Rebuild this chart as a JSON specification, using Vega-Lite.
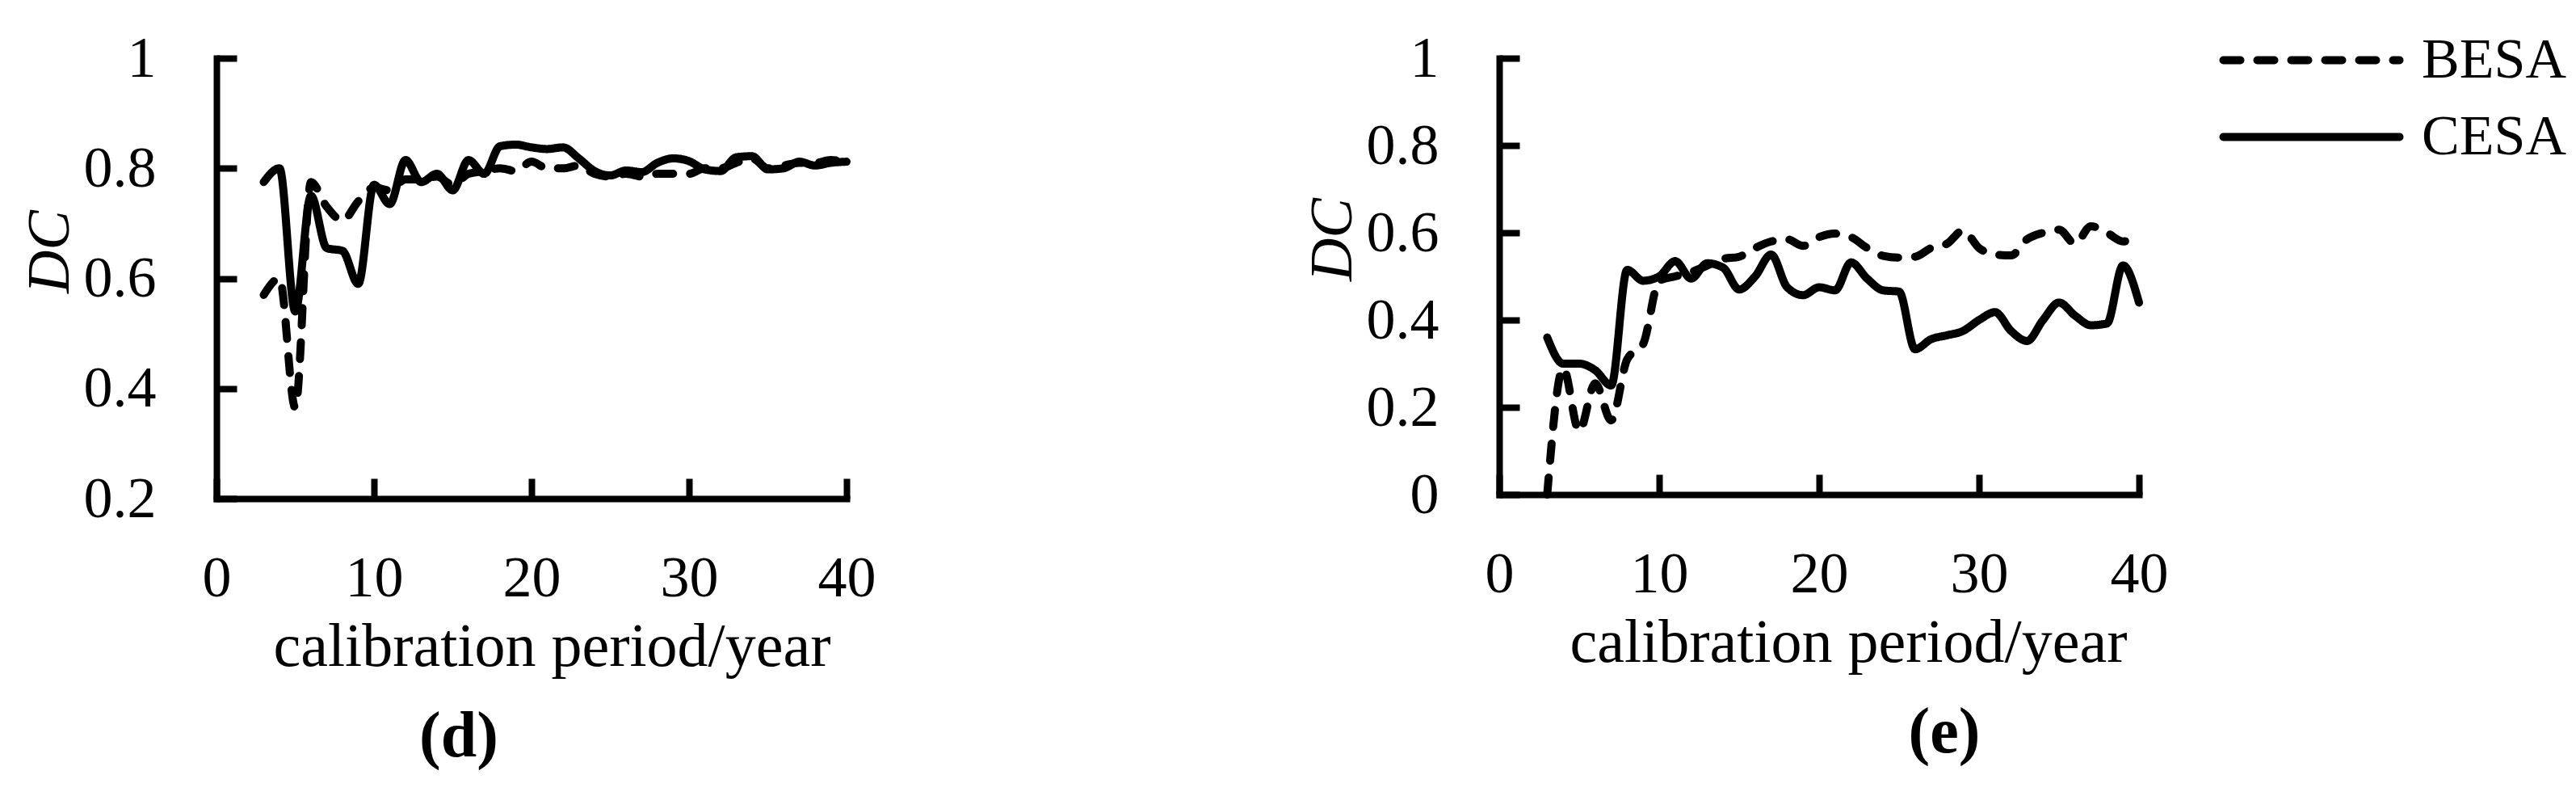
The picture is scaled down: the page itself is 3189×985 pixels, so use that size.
{
  "$schema": "https://vega.github.io/schema/vega-lite/v6.json",
  "background": "white",
  "padding": {"left": 25, "top": 15, "right": 5, "bottom": 5},
  "datasets": {
    "dc": [
      {"p":"d","m":"CESA","year":3,"DC":0.775},{"p":"d","m":"CESA","year":4,"DC":0.80},{"p":"d","m":"CESA","year":5,"DC":0.54},{"p":"d","m":"CESA","year":6,"DC":0.75},{"p":"d","m":"CESA","year":7,"DC":0.655},{"p":"d","m":"CESA","year":8,"DC":0.65},{"p":"d","m":"CESA","year":9,"DC":0.59},{"p":"d","m":"CESA","year":10,"DC":0.77},{"p":"d","m":"CESA","year":11,"DC":0.735},{"p":"d","m":"CESA","year":12,"DC":0.815},{"p":"d","m":"CESA","year":13,"DC":0.775},{"p":"d","m":"CESA","year":14,"DC":0.79},{"p":"d","m":"CESA","year":15,"DC":0.76},{"p":"d","m":"CESA","year":16,"DC":0.815},{"p":"d","m":"CESA","year":17,"DC":0.79},{"p":"d","m":"CESA","year":18,"DC":0.84},{"p":"d","m":"CESA","year":19,"DC":0.843},{"p":"d","m":"CESA","year":20,"DC":0.838},{"p":"d","m":"CESA","year":21,"DC":0.835},{"p":"d","m":"CESA","year":22,"DC":0.838},{"p":"d","m":"CESA","year":23,"DC":0.818},{"p":"d","m":"CESA","year":24,"DC":0.795},{"p":"d","m":"CESA","year":25,"DC":0.787},{"p":"d","m":"CESA","year":26,"DC":0.796},{"p":"d","m":"CESA","year":27,"DC":0.793},{"p":"d","m":"CESA","year":28,"DC":0.81},{"p":"d","m":"CESA","year":29,"DC":0.818},{"p":"d","m":"CESA","year":30,"DC":0.813},{"p":"d","m":"CESA","year":31,"DC":0.798},{"p":"d","m":"CESA","year":32,"DC":0.795},{"p":"d","m":"CESA","year":33,"DC":0.82},{"p":"d","m":"CESA","year":34,"DC":0.822},{"p":"d","m":"CESA","year":35,"DC":0.798},{"p":"d","m":"CESA","year":36,"DC":0.80},{"p":"d","m":"CESA","year":37,"DC":0.812},{"p":"d","m":"CESA","year":38,"DC":0.805},{"p":"d","m":"CESA","year":39,"DC":0.81},{"p":"d","m":"CESA","year":40,"DC":0.812},
      {"p":"d","m":"BESA","year":3,"DC":0.57},{"p":"d","m":"BESA","year":4,"DC":0.60},{"p":"d","m":"BESA","year":5,"DC":0.365},{"p":"d","m":"BESA","year":6,"DC":0.775},{"p":"d","m":"BESA","year":7,"DC":0.73},{"p":"d","m":"BESA","year":8,"DC":0.705},{"p":"d","m":"BESA","year":9,"DC":0.74},{"p":"d","m":"BESA","year":10,"DC":0.765},{"p":"d","m":"BESA","year":11,"DC":0.76},{"p":"d","m":"BESA","year":12,"DC":0.78},{"p":"d","m":"BESA","year":13,"DC":0.78},{"p":"d","m":"BESA","year":14,"DC":0.785},{"p":"d","m":"BESA","year":15,"DC":0.77},{"p":"d","m":"BESA","year":16,"DC":0.79},{"p":"d","m":"BESA","year":17,"DC":0.795},{"p":"d","m":"BESA","year":18,"DC":0.80},{"p":"d","m":"BESA","year":19,"DC":0.795},{"p":"d","m":"BESA","year":20,"DC":0.812},{"p":"d","m":"BESA","year":21,"DC":0.80},{"p":"d","m":"BESA","year":22,"DC":0.80},{"p":"d","m":"BESA","year":23,"DC":0.805},{"p":"d","m":"BESA","year":24,"DC":0.79},{"p":"d","m":"BESA","year":25,"DC":0.785},{"p":"d","m":"BESA","year":26,"DC":0.79},{"p":"d","m":"BESA","year":27,"DC":0.785},{"p":"d","m":"BESA","year":28,"DC":0.79},{"p":"d","m":"BESA","year":29,"DC":0.79},{"p":"d","m":"BESA","year":30,"DC":0.79},{"p":"d","m":"BESA","year":31,"DC":0.80},{"p":"d","m":"BESA","year":32,"DC":0.80},{"p":"d","m":"BESA","year":33,"DC":0.81},{"p":"d","m":"BESA","year":34,"DC":0.818},{"p":"d","m":"BESA","year":35,"DC":0.80},{"p":"d","m":"BESA","year":36,"DC":0.805},{"p":"d","m":"BESA","year":37,"DC":0.81},{"p":"d","m":"BESA","year":38,"DC":0.81},{"p":"d","m":"BESA","year":39,"DC":0.815},{"p":"d","m":"BESA","year":40,"DC":0.81},
      {"p":"e","m":"CESA","year":3,"DC":0.36},{"p":"e","m":"CESA","year":4,"DC":0.30},{"p":"e","m":"CESA","year":5,"DC":0.30},{"p":"e","m":"CESA","year":6,"DC":0.285},{"p":"e","m":"CESA","year":7,"DC":0.25},{"p":"e","m":"CESA","year":8,"DC":0.515},{"p":"e","m":"CESA","year":9,"DC":0.49},{"p":"e","m":"CESA","year":10,"DC":0.50},{"p":"e","m":"CESA","year":11,"DC":0.535},{"p":"e","m":"CESA","year":12,"DC":0.495},{"p":"e","m":"CESA","year":13,"DC":0.53},{"p":"e","m":"CESA","year":14,"DC":0.52},{"p":"e","m":"CESA","year":15,"DC":0.47},{"p":"e","m":"CESA","year":16,"DC":0.50},{"p":"e","m":"CESA","year":17,"DC":0.55},{"p":"e","m":"CESA","year":18,"DC":0.475},{"p":"e","m":"CESA","year":19,"DC":0.457},{"p":"e","m":"CESA","year":20,"DC":0.475},{"p":"e","m":"CESA","year":21,"DC":0.468},{"p":"e","m":"CESA","year":22,"DC":0.532},{"p":"e","m":"CESA","year":23,"DC":0.495},{"p":"e","m":"CESA","year":24,"DC":0.468},{"p":"e","m":"CESA","year":25,"DC":0.465},{"p":"e","m":"CESA","year":26,"DC":0.333},{"p":"e","m":"CESA","year":27,"DC":0.356},{"p":"e","m":"CESA","year":28,"DC":0.365},{"p":"e","m":"CESA","year":29,"DC":0.375},{"p":"e","m":"CESA","year":30,"DC":0.40},{"p":"e","m":"CESA","year":31,"DC":0.418},{"p":"e","m":"CESA","year":32,"DC":0.375},{"p":"e","m":"CESA","year":33,"DC":0.352},{"p":"e","m":"CESA","year":34,"DC":0.40},{"p":"e","m":"CESA","year":35,"DC":0.44},{"p":"e","m":"CESA","year":36,"DC":0.41},{"p":"e","m":"CESA","year":37,"DC":0.388},{"p":"e","m":"CESA","year":38,"DC":0.392},{"p":"e","m":"CESA","year":39,"DC":0.525},{"p":"e","m":"CESA","year":40,"DC":0.44},
      {"p":"e","m":"BESA","year":3,"DC":0.0},{"p":"e","m":"BESA","year":4,"DC":0.29},{"p":"e","m":"BESA","year":5,"DC":0.145},{"p":"e","m":"BESA","year":6,"DC":0.255},{"p":"e","m":"BESA","year":7,"DC":0.17},{"p":"e","m":"BESA","year":8,"DC":0.31},{"p":"e","m":"BESA","year":9,"DC":0.345},{"p":"e","m":"BESA","year":10,"DC":0.49},{"p":"e","m":"BESA","year":11,"DC":0.50},{"p":"e","m":"BESA","year":12,"DC":0.51},{"p":"e","m":"BESA","year":13,"DC":0.525},{"p":"e","m":"BESA","year":14,"DC":0.54},{"p":"e","m":"BESA","year":15,"DC":0.545},{"p":"e","m":"BESA","year":16,"DC":0.565},{"p":"e","m":"BESA","year":17,"DC":0.58},{"p":"e","m":"BESA","year":18,"DC":0.585},{"p":"e","m":"BESA","year":19,"DC":0.57},{"p":"e","m":"BESA","year":20,"DC":0.59},{"p":"e","m":"BESA","year":21,"DC":0.598},{"p":"e","m":"BESA","year":22,"DC":0.59},{"p":"e","m":"BESA","year":23,"DC":0.565},{"p":"e","m":"BESA","year":24,"DC":0.547},{"p":"e","m":"BESA","year":25,"DC":0.543},{"p":"e","m":"BESA","year":26,"DC":0.545},{"p":"e","m":"BESA","year":27,"DC":0.565},{"p":"e","m":"BESA","year":28,"DC":0.575},{"p":"e","m":"BESA","year":29,"DC":0.605},{"p":"e","m":"BESA","year":30,"DC":0.565},{"p":"e","m":"BESA","year":31,"DC":0.55},{"p":"e","m":"BESA","year":32,"DC":0.548},{"p":"e","m":"BESA","year":33,"DC":0.585},{"p":"e","m":"BESA","year":34,"DC":0.60},{"p":"e","m":"BESA","year":35,"DC":0.607},{"p":"e","m":"BESA","year":36,"DC":0.575},{"p":"e","m":"BESA","year":37,"DC":0.615},{"p":"e","m":"BESA","year":38,"DC":0.60},{"p":"e","m":"BESA","year":39,"DC":0.58},{"p":"e","m":"BESA","year":40,"DC":0.60}
    ]
  },
  "config": {
    "font": "Liberation Serif",
    "view": {"stroke": null},
    "concat": {"spacing": 808},
    "axis": {
      "domainColor": "black", "domainWidth": 8, "domainCap": "square",
      "tickColor": "black", "tickWidth": 8, "tickSize": -25,
      "grid": false,
      "labelFont": "Liberation Serif", "labelFontSize": 72, "labelColor": "black",
      "labelOverlap": false, "labelFlush": false,
      "titleFont": "Liberation Serif", "titleColor": "black", "titleFontWeight": "normal"
    },
    "axisX": {"labelPadding": 88, "titlePadding": 12, "labelAngle": 0, "titleFontSize": 76},
    "axisY": {"labelPadding": 100, "titlePadding": 3, "titleFontStyle": "italic", "titleFontSize": 74},
    "title": {"font": "Liberation Serif", "fontSize": 80, "fontWeight": "bold", "color": "black"},
    "legend": {
      "title": null,
      "labelFont": "Liberation Serif", "labelFontSize": 70, "labelColor": "black", "labelLimit": 600,
      "symbolStrokeColor": "black", "symbolStrokeWidth": 10,
      "padding": 0, "rowPadding": -7, "labelOffset": 77
    }
  },
  "resolve": {"scale": {"strokeDash": "shared"}, "legend": {"strokeDash": "shared"}},
  "bounds": "flush",
  "hconcat": [
    {
      "data": {"name": "dc"},
      "width": 780, "height": 545,
      "title": {"text": "(d)", "orient": "bottom", "anchor": "middle", "frame": "group", "dx": -90, "offset": 35},
      "transform": [{"filter": "datum.p === 'd'"}],
      "mark": {"type": "line", "strokeWidth": 10, "strokeCap": "round", "strokeJoin": "round", "interpolate": "monotone", "color": "black"},
      "encoding": {
        "x": {"field": "year", "type": "quantitative", "scale": {"domain": [0, 40], "nice": false}, "axis": {"values": [0, 10, 20, 30, 40], "title": "calibration period/year", "titleX": 415}},
        "y": {"field": "DC", "type": "quantitative", "scale": {"domain": [0.2, 1], "nice": false, "zero": false}, "axis": {"values": [0.2, 0.4, 0.6, 0.8, 1], "format": "~g", "title": "DC", "titleY": 239}},
        "strokeDash": {"field": "m", "type": "nominal", "scale": {"domain": ["BESA", "CESA"], "range": [[21, 21], [1, 0]]}, "legend": {"orient": "none", "legendX": 2534, "legendY": -57, "symbolType": "M-2,0H2", "symbolSize": 11881, "encode": {"symbols": {"update": {"strokeCap": {"value": "round"}}}}}}
      }
    },
    {
      "data": {"name": "dc"},
      "width": 792, "height": 540,
      "title": {"text": "(e)", "orient": "bottom", "anchor": "middle", "frame": "group", "dx": 155, "offset": 35},
      "transform": [{"filter": "datum.p === 'e'"}],
      "mark": {"type": "line", "strokeWidth": 10, "strokeCap": "round", "strokeJoin": "round", "interpolate": "monotone", "color": "black"},
      "encoding": {
        "x": {"field": "year", "type": "quantitative", "scale": {"domain": [0, 40], "nice": false}, "axis": {"values": [0, 10, 20, 30, 40], "title": "calibration period/year", "titleX": 432}},
        "y": {"field": "DC", "type": "quantitative", "scale": {"domain": [0, 1], "nice": false}, "axis": {"values": [0, 0.2, 0.4, 0.6, 0.8, 1], "format": "~g", "title": "DC", "titleY": 224}},
        "strokeDash": {"field": "m", "type": "nominal", "scale": {"domain": ["BESA", "CESA"], "range": [[21, 21], [1, 0]]}, "legend": {"orient": "none", "legendX": 2534, "legendY": -57, "symbolType": "M-2,0H2", "symbolSize": 11881, "encode": {"symbols": {"update": {"strokeCap": {"value": "round"}}}}}}
      }
    }
  ]
}
